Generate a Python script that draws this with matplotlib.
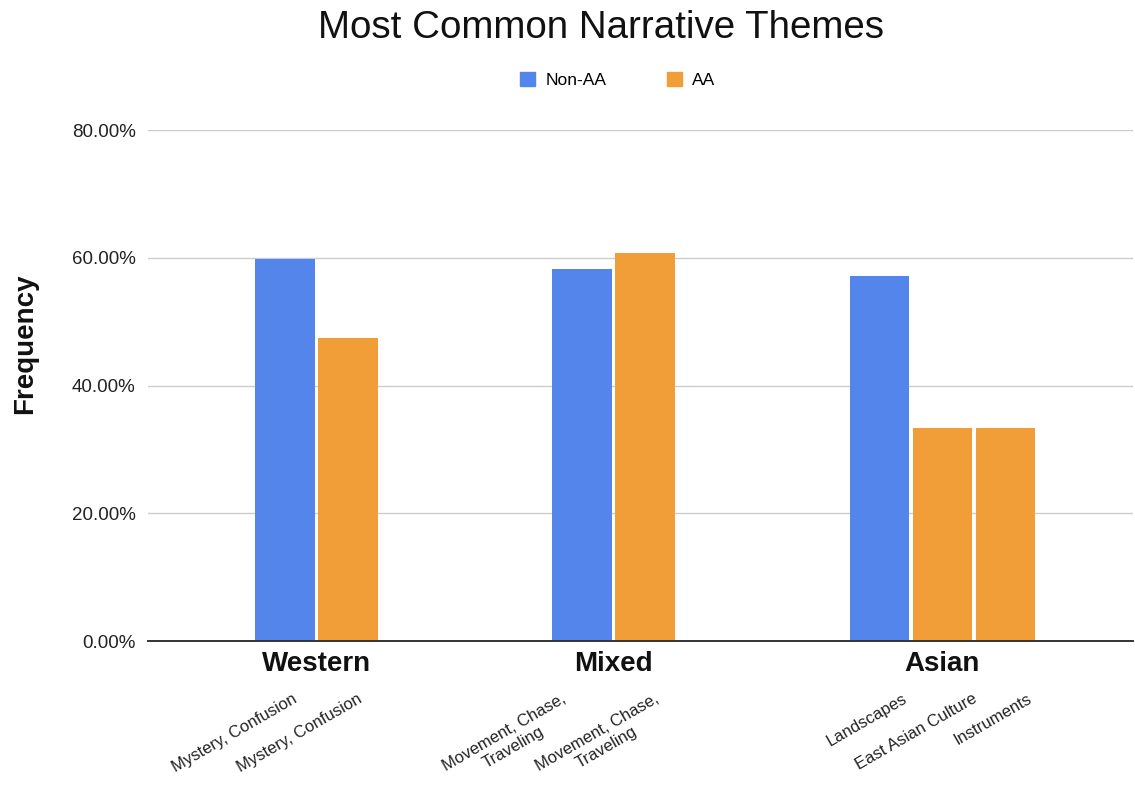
import matplotlib.pyplot as plt
from matplotlib.patches import Patch
from matplotlib.transforms import ScaledTranslation

plt.rcParams['font.family'] = ['Liberation Sans', 'DejaVu Sans']

groups = ['Western', 'Mixed', 'Asian']
themes = [
    ['Mystery, Confusion', 'Mystery, Confusion'],
    ['Movement, Chase,\nTraveling', 'Movement, Chase,\nTraveling'],
    ['Landscapes', 'East Asian Culture', 'Instruments'],
]
series = [
    ['Non-AA', 'AA'],
    ['Non-AA', 'AA'],
    ['Non-AA', 'AA', 'AA'],
]
values = [
    [59.8, 47.4],
    [58.2, 60.7],
    [57.1, 33.3, 33.3],
]
colors = {'Non-AA': '#5385EB', 'AA': '#F19E38'}
# horizontal nudge of each rotated theme label, in pixels
label_shift = [7, 9, -21, 9, 23, 30, 21]

fig = plt.figure(figsize=(11.35, 7.87), dpi=100)
ax = fig.add_axes([0.1304, 0.1855, 0.8676, 0.6493])

# lay the bars out slot by slot, with a gap between groups
x = 2.17
xs, labels, group_x = [], [], []
for g, vals in enumerate(values):
    pos = [x + i for i in range(len(vals))]
    for p, v, s in zip(pos, vals, series[g]):
        ax.bar(p, v, width=0.95, color=colors[s], zorder=3)
    xs += pos
    labels += themes[g]
    group_x.append(sum(pos) / len(pos))
    x += len(vals) + 2.72

ax.set_xlim(0, 15.63)
ax.set_ylim(0, 80)
ax.set_yticks([0, 20, 40, 60, 80])
ax.set_yticklabels(['%.2f%%' % t for t in [0, 20, 40, 60, 80]], fontsize=13.5, color='#222222')
ax.yaxis.grid(True, color='#cccccc', linewidth=1, zorder=0)
ax.tick_params(axis='y', length=0, pad=9)
for s in ['left', 'right', 'top']:
    ax.spines[s].set_visible(False)
ax.spines['bottom'].set_color('#333333')
ax.spines['bottom'].set_linewidth(1.4)
ax.spines['bottom'].set_zorder(4)

ax.set_xticks(xs)
ax.set_xticklabels(labels, rotation=30, ha='right', va='top', rotation_mode='anchor',
                   fontsize=12, multialignment='center', color='#222222')
ax.tick_params(axis='x', length=0, pad=36)
for lbl, dx in zip(ax.get_xticklabels(), label_shift):
    lbl.set_transform(lbl.get_transform() + ScaledTranslation(dx / 100, 0, fig.dpi_scale_trans))

for gx, name in zip(group_x, groups):
    ax.text(gx, -0.045, name, transform=ax.get_xaxis_transform(), ha='center', va='center',
            fontsize=20, fontweight='bold', color='#111111')

fig.text(25 / 1135, 1 - 344 / 787, 'Frequency', rotation=90, ha='center', va='center',
         fontsize=20, fontweight='bold', color='#111111')

fig.text(601 / 1135, 1 - 28 / 787, 'Most Common Narrative Themes', ha='center', va='center',
         fontsize=27.7, color='#111111')
handles = [Patch(color=colors['Non-AA'], label='Non-AA'), Patch(color=colors['AA'], label='AA')]
fig.legend(handles=handles, loc='center', bbox_to_anchor=(618 / 1135, 1 - 80 / 787), ncol=2,
           frameon=False, fontsize=12.5, handlelength=0.85, handleheight=0.85,
           columnspacing=3.5, handletextpad=0.6)

fig.savefig('out.png', dpi=100)
